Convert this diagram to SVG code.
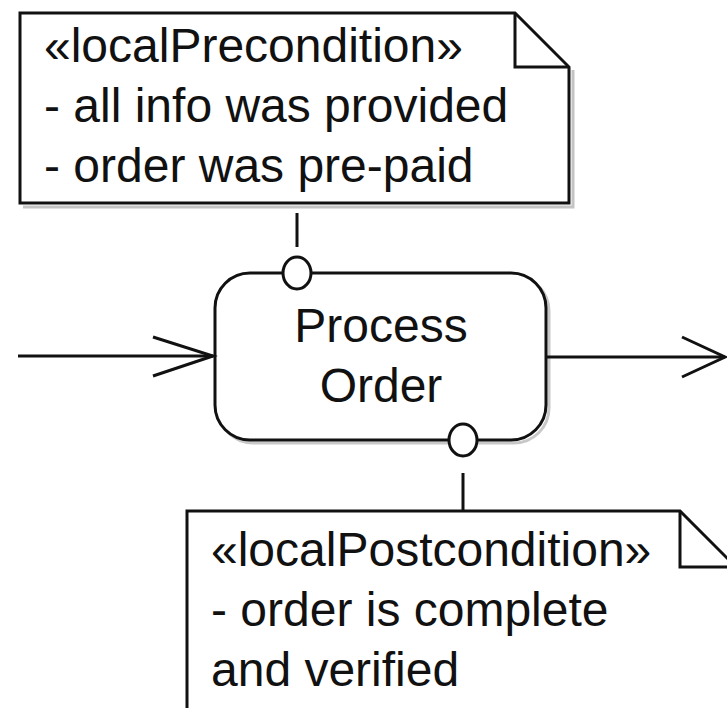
<svg xmlns="http://www.w3.org/2000/svg" width="727" height="708" viewBox="0 0 727 708">
<style>
  .edge{fill:none;stroke:#111;stroke-width:3;stroke-linejoin:miter}
  .shadow{fill:none;stroke:#c4c4c4;stroke-width:3}
  .body{fill:#fff;stroke:#111;stroke-width:3}
  .pin{fill:#fff;stroke:#111;stroke-width:3}
  .txt{font-family:"Liberation Sans",Arial,sans-serif;font-size:48px;fill:#111}
  .ctr{text-anchor:middle}
</style>
<rect width="727" height="708" fill="#fff"/>
<g id="precondition-note">
  <path class="shadow" d="M573,70 V207 H23"/>
  <path class="body" d="M20,13 H515 L569,67 V203 H20 Z"/>
  <path class="edge" d="M515,13 V67 H569"/>
  <text class="txt" x="44" y="62">«localPrecondition»</text>
  <text class="txt" x="44" y="122">- all info was provided</text>
  <text class="txt" x="44" y="182">- order was pre-paid</text>
</g>
<g id="process-order">
  <rect x="218" y="276" width="331" height="167" rx="35" ry="35" fill="none" stroke="#c8c8c8" stroke-width="3"/>
  <rect class="body" x="215" y="273" width="331" height="167" rx="35" ry="35"/>
  <text class="txt ctr" x="381" y="342">Process</text>
  <text class="txt ctr" x="381" y="402">Order</text>
</g>
<g id="postcondition-note">
  <path class="body" d="M187,511 H680 L736,567 V730 H187 Z"/>
  <path class="edge" d="M680,511 V567 H736"/>
  <text class="txt" x="211" y="566">«localPostcondition»</text>
  <text class="txt" x="211" y="626">- order is complete</text>
  <text class="txt" x="211" y="686">and verified</text>
</g>
<g id="connectors">
  <line class="edge" x1="297" y1="213" x2="297" y2="247"/>
  <line class="edge" x1="463" y1="473" x2="463" y2="511"/>
  <line class="edge" x1="18" y1="356" x2="213" y2="356"/>
  <polyline class="edge" points="153,337 213,356 153,376"/>
  <line class="edge" x1="546" y1="357" x2="725" y2="357"/>
  <polyline class="edge" points="682,337 725,357 682,377"/>
</g>
<g id="pre-pin">
  <ellipse class="pin" cx="297" cy="273" rx="14" ry="16"/>
</g>
<g id="post-pin">
  <ellipse class="pin" cx="463" cy="440" rx="14" ry="16"/>
</g>
</svg>
